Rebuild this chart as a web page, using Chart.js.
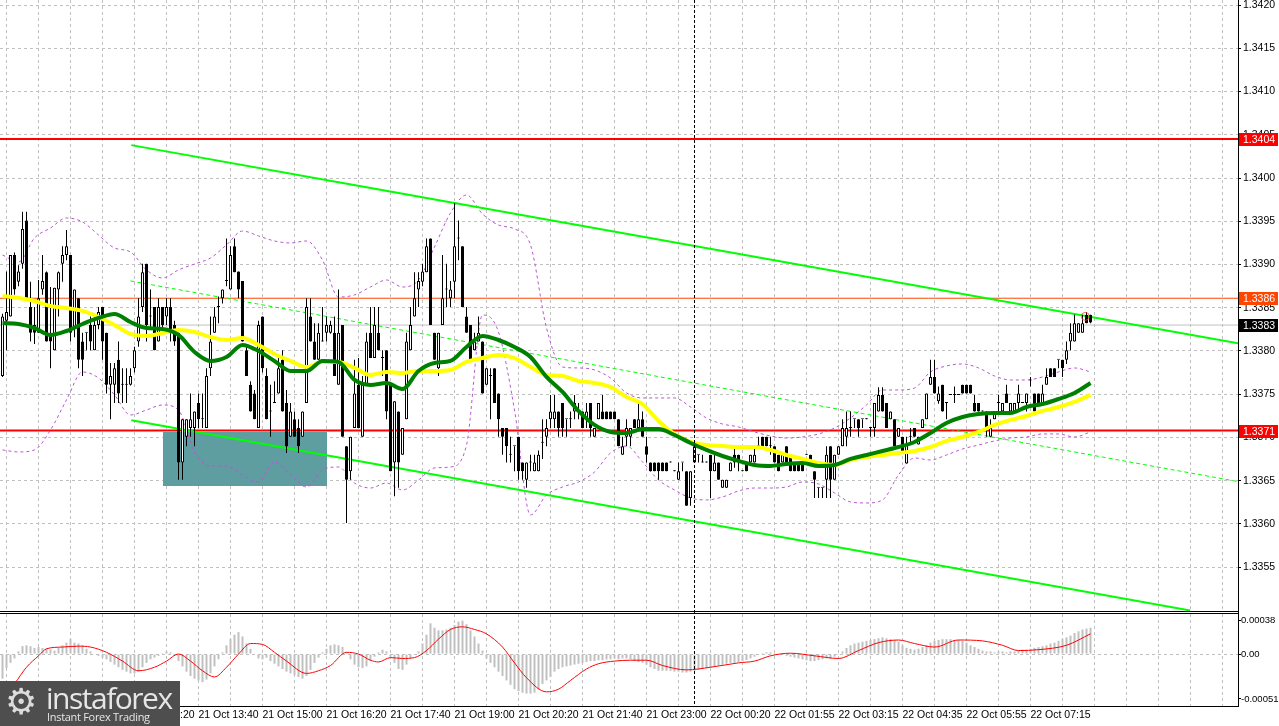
<!DOCTYPE html>
<html>
<head>
<meta charset="utf-8">
<title>GBP/USD M5</title>
<script src="https://cdn.jsdelivr.net/npm/chart.js@4.4.1/dist/chart.umd.min.js"></script>
<style>
  body { margin: 0; background: #fff; }
  #wrap { position: relative; width: 1279px; height: 726px; overflow: hidden; background: #fff; }
  #price { position: absolute; left: 0; top: 0; }
  #macd { position: absolute; left: 0; top: 611px; }
  #logo { position: absolute; left: 0; top: 681px; width: 180px; height: 45px; background: #4e4e4e; color: #e6e6e6; }
  #logo .gear { position: absolute; left: 5px; top: 1px; font: 36px/40px "DejaVu Sans"; color: #dcdcdc; }
  #logo .brand { position: absolute; left: 46px; top: -2px; font: 30px/38px "Open Sans"; letter-spacing: -1.5px; }
  #logo .sub { position: absolute; left: 47px; top: 29px; font: 11px/14px "Open Sans"; letter-spacing: -0.3px; }
</style>
</head>
<body>
<div id="wrap">
  <canvas id="price" width="1279" height="611"></canvas>
  <canvas id="macd" width="1279" height="115"></canvas>
  <div id="logo"><span class="gear">&#9881;</span><span class="brand">instaforex</span><span class="sub">Instant Forex Trading</span></div>
</div>
<script>
// Candles (5 min), prices in pips above 1.3300
const BASE = 1.33;

const opens = [
  77.1,83.5,84.0,91.1,88.0,90.1,95.1,85.1,83.0,82.1,
  87.1,89.1,82.1,80.1,87.1,90.1,91.1,91.1,82.8,86.1,
  81.1,82.1,83.0,80.1,83.0,85.1,82.1,76.1,76.1,79.0,
  76.1,76.1,76.1,78.0,81.1,85.1,90.1,84.0,85.1,81.1,
  85.1,84.0,85.1,83.0,82.1,67.1,70.1,71.1,71.1,74.0,
  72.1,71.1,78.0,82.1,85.1,86.1,88.1,87.1,92.1,89.2,
  88.1,80.1,76.1,75.1,71.1,84.0,77.1,73.0,74.0,75.1,
  79.0,74.0,70.1,72.1,71.1,70.1,74.0,84.0,81.1,79.0,
  81.1,82.1,82.1,82.1,76.1,83.0,69.0,66.1,71.1,76.1,
  70.1,76.1,82.1,79.2,82.1,79.2,80.1,76.1,67.1,73.0,
  68.0,72.1,80.1,84.0,87.1,88.0,89.1,93.0,82.1,78.0,
  83.0,87.1,86.1,88.0,93.0,92.1,84.0,83.0,80.1,81.1,
  81.1,76.1,77.1,78.0,75.1,71.1,71.1,68.0,69.0,70.1,
  67.1,65.1,67.1,66.1,66.1,69.4,70.1,72.1,72.1,73.0,
  74.0,72.1,72.1,73.0,73.0,73.0,72.1,74.0,70.1,72.1,
  73.0,73.0,73.0,73.0,72.1,68.0,70.1,70.1,72.1,71.1,
  72.1,69.0,67.1,67.1,67.1,67.1,67.1,67.1,66.1,65.1,
  67.1,66.1,63.0,67.1,68.0,67.1,67.1,68.0,66.1,67.1,
  64.2,64.2,66.1,68.0,68.0,66.1,67.1,67.1,67.1,69.0,
  70.1,70.1,69.0,69.0,68.0,67.1,69.0,68.0,67.1,67.1,
  67.1,68.0,68.0,66.1,64.2,64.2,65.1,69.0,65.1,68.0,
  69.0,70.1,71.1,72.1,72.1,72.1,72.1,71.1,71.1,73.0,
  74.9,74.0,72.1,72.1,70.1,70.1,67.0,70.1,71.1,69.2,
  71.1,72.1,76.1,77.0,74.2,76.1,74.0,74.9,74.9,74.9,
  76.1,76.1,76.1,74.0,74.0,73.0,73.0,70.1,72.1,74.0,
  73.0,75.1,73.0,73.0,74.0,74.0,74.0,76.6,75.1,75.1,
  74.0,76.1,78.0,78.0,79.0,79.0,79.0,81.1,81.1,82.1,
  82.1,84.2,84.2
];
const highs = [
  84.3,89.2,91.1,91.4,89.9,96.1,96.1,88.0,85.1,88.2,
  91.1,89.2,87.4,87.3,89.2,92.1,94.0,91.1,87.1,86.1,
  82.1,82.1,84.0,84.0,85.1,85.1,82.1,78.6,78.6,81.1,
  78.0,78.0,78.0,80.5,86.1,90.1,90.1,87.1,85.1,86.1,
  85.1,86.1,86.1,83.5,82.1,72.1,72.1,75.1,73.0,75.1,
  75.1,78.0,84.0,85.1,86.3,87.1,93.0,92.1,93.0,89.2,
  88.1,80.5,76.5,75.5,83.5,84.0,78.0,76.1,76.5,79.2,
  80.1,75.5,74.0,73.0,72.1,73.0,86.1,86.1,83.2,83.2,
  85.1,84.0,83.5,84.0,87.1,83.0,69.0,70.1,79.0,79.2,
  77.1,82.1,85.1,85.1,85.1,80.1,80.1,76.1,74.2,73.0,
  71.1,82.1,85.1,89.1,89.1,90.1,93.0,93.0,82.1,82.1,
  91.1,90.1,88.1,97.1,95.1,92.1,85.1,83.0,82.1,84.0,
  81.1,78.0,78.0,78.0,75.1,71.1,71.1,70.1,69.0,70.1,
  67.1,67.1,68.0,68.0,68.5,72.1,72.1,74.9,74.9,73.0,
  74.0,72.1,73.0,74.9,74.0,73.0,74.0,74.0,71.1,74.0,
  74.9,73.0,73.0,73.0,72.1,70.1,72.1,71.1,72.1,74.0,
  73.0,70.1,67.1,67.1,67.1,67.1,67.1,67.1,66.1,67.1,
  67.1,66.1,66.1,69.0,68.0,68.0,67.1,68.0,68.0,67.1,
  65.1,65.1,67.1,69.0,68.0,66.1,67.1,68.0,69.0,70.1,
  70.1,70.1,70.1,69.0,68.0,68.0,69.0,68.0,67.1,67.1,
  67.1,68.0,68.0,66.1,64.2,64.2,69.0,69.0,68.0,69.0,
  72.1,73.0,73.0,72.1,72.1,72.1,72.1,71.1,74.0,75.8,
  75.8,74.0,73.0,72.1,71.1,70.1,70.1,71.1,71.1,70.1,
  72.1,75.1,79.0,79.0,75.9,76.1,74.0,74.9,75.9,74.9,
  76.1,76.1,76.1,74.9,74.0,73.0,73.0,72.1,73.0,74.9,
  74.0,76.1,74.0,74.0,76.1,74.0,75.1,77.0,75.1,75.1,
  76.1,78.0,78.0,78.0,79.0,79.0,81.1,83.2,84.2,83.2,
  84.2,84.5,84.2
];
const lows = [
  77.0,80.1,84.0,86.5,87.5,89.5,86.1,81.1,80.8,82.1,
  86.5,81.1,78.0,80.1,84.0,88.0,90.5,81.1,81.6,78.0,
  77.1,80.1,80.1,80.1,82.5,79.0,75.1,72.1,74.0,74.0,
  74.0,74.0,76.0,77.5,80.5,84.5,81.1,82.5,80.1,81.1,
  82.5,83.0,81.1,80.6,65.1,65.1,69.0,70.1,69.0,71.1,
  71.1,71.1,77.1,82.1,83.2,85.5,87.5,87.1,89.1,86.1,
  81.1,77.1,73.0,72.1,71.1,77.5,72.1,70.1,74.0,75.1,
  73.0,68.2,70.1,70.1,68.2,70.1,74.0,81.1,79.0,79.0,
  81.1,81.1,82.0,77.1,76.1,70.1,60.1,65.1,71.1,71.1,
  70.1,76.1,79.2,79.2,80.1,77.1,72.1,66.1,63.2,64.2,
  68.0,72.1,80.1,84.0,85.1,87.5,89.1,83.0,79.0,77.1,
  83.0,85.1,85.1,86.1,90.5,85.1,82.1,79.0,80.1,81.1,
  75.1,76.1,72.1,74.0,70.1,68.0,67.1,67.1,66.1,65.1,
  65.1,64.2,66.1,66.1,66.1,67.5,69.0,71.1,71.1,70.1,
  70.1,70.1,71.1,72.1,72.1,71.1,71.1,70.1,70.1,72.1,
  72.1,72.1,72.1,72.1,69.0,68.0,69.0,69.0,71.1,71.1,
  70.1,67.1,66.1,66.1,65.1,66.1,66.1,67.1,66.1,65.1,
  66.1,62.1,62.1,67.1,67.1,67.1,67.1,63.0,66.1,65.1,
  64.2,64.2,66.1,66.5,66.1,66.1,66.1,67.1,67.1,69.0,
  69.0,69.0,68.0,67.1,66.1,67.1,67.1,66.1,66.1,66.1,
  66.1,68.0,67.1,63.0,63.0,63.0,63.0,63.0,65.1,68.0,
  69.0,69.0,70.1,71.1,70.1,71.1,72.1,70.1,70.1,73.0,
  73.0,71.1,72.1,69.0,70.1,68.2,67.0,69.2,70.1,69.2,
  71.1,72.1,76.1,75.1,73.9,73.0,72.1,74.9,74.0,74.9,
  75.1,75.1,75.1,73.0,73.0,73.0,70.1,70.1,72.1,73.0,
  73.0,74.0,73.0,73.0,73.0,74.0,73.0,75.9,73.0,74.0,
  74.0,76.1,77.0,77.0,78.0,77.0,78.5,80.1,81.1,82.1,
  82.1,83.2,83.2
];
const closes = [
  84.0,84.5,91.1,87.1,89.2,94.1,86.1,82.1,82.1,86.1,
  88.1,81.1,81.1,87.3,89.1,91.1,92.1,82.1,87.1,79.0,
  79.0,82.1,81.1,83.0,84.5,81.1,76.1,77.1,78.0,75.1,
  76.1,76.1,77.1,80.1,84.0,89.1,83.0,84.0,80.1,85.1,
  83.0,85.1,82.1,81.1,67.1,72.1,72.1,72.1,73.0,72.1,
  72.1,77.1,81.1,84.0,85.1,87.1,88.1,91.1,89.1,87.1,
  81.1,77.1,73.0,72.1,83.0,78.0,72.1,73.0,74.0,78.0,
  73.0,69.0,73.0,70.1,69.0,73.0,85.1,81.1,79.0,82.1,
  81.1,83.0,83.0,77.1,82.1,70.1,65.1,70.1,75.1,71.1,
  76.1,81.1,79.2,83.0,80.1,79.2,73.0,66.1,74.2,67.1,
  71.1,81.1,83.0,86.1,88.1,89.2,92.1,83.0,79.0,82.1,
  86.1,87.1,87.1,92.1,93.0,85.1,82.1,79.0,81.1,82.1,
  75.1,78.0,77.1,74.0,72.1,70.1,69.0,68.0,69.0,66.1,
  66.1,67.1,67.1,67.1,68.0,69.4,71.1,73.0,73.0,71.1,
  71.1,72.1,72.1,74.0,73.0,71.1,73.0,71.1,71.1,74.0,
  72.1,72.1,72.1,72.1,69.0,69.0,71.1,71.1,71.1,72.1,
  70.1,68.0,66.1,66.1,66.1,66.1,66.1,67.1,66.1,66.1,
  67.1,62.1,66.1,69.0,68.0,67.1,67.1,66.1,67.1,65.1,
  65.1,65.1,67.1,67.1,67.1,66.1,66.1,68.0,68.0,69.0,
  69.0,69.0,69.0,67.1,66.1,68.0,67.1,66.1,66.1,66.1,
  66.1,68.0,67.1,65.1,64.2,64.2,68.0,65.1,68.0,69.0,
  71.1,71.1,71.1,72.1,71.1,72.1,72.1,71.1,74.0,74.9,
  73.0,71.1,73.0,69.0,71.1,68.2,69.2,70.1,70.1,70.1,
  72.1,75.1,77.0,75.1,75.1,73.0,74.0,74.9,74.9,74.9,
  75.1,75.1,75.1,73.0,73.0,73.0,71.1,71.1,73.0,74.0,
  74.0,74.0,74.0,74.0,75.1,74.0,75.1,76.6,73.0,74.0,
  75.1,77.0,77.0,77.0,79.0,78.0,80.1,82.1,83.2,83.2,
  83.2,83.2,83.3
];

// Moving averages and Bollinger bands, read every 4th bar
const lineIdx = [0,4,8,12,16,20,24,28,32,36,40,44,48,52,56,60,64,68,72,76,80,84,88,92,96,100,104,108,112,116,
  120,124,128,132,136,140,144,148,152,156,160,164,168,172,176,180,184,188,192,196,200,204,208,212,216,220,224,228,232,236,
  240,244,248,252,256,260,264,268,272];
const maFast = [
  83.24,83.12,82.66,81.85,82.31,83.12,83.82,84.28,83.35,82.66,
  82.55,81.85,79.89,78.85,79.31,80.70,80.00,78.85,77.69,77.69,
  78.85,78.73,76.65,76.07,76.30,75.61,77.69,78.61,78.85,80.46,
  81.74,81.27,80.46,79.31,77.00,75.26,73.07,71.45,70.64,70.52,
  70.98,70.98,70.29,69.37,68.56,67.86,67.29,66.82,66.71,66.94,
  67.05,66.71,66.82,67.52,67.98,68.44,68.90,69.48,70.52,71.68,
  72.37,72.72,72.83,72.83,73.53,73.87,74.45,75.15,76.30
];
const maSlow = [
  86.36,86.13,85.78,85.20,84.97,84.63,83.93,83.01,81.97,81.74,
  82.08,82.43,82.20,81.62,81.27,81.50,80.70,79.66,78.85,78.15,
  78.73,78.73,78.04,77.23,77.58,77.46,77.69,77.69,77.81,78.73,
  79.19,79.54,79.19,78.15,77.23,77.11,76.53,76.30,75.84,74.68,
  73.87,71.91,70.41,69.48,69.13,69.02,68.90,68.90,68.56,67.98,
  67.52,67.05,66.82,67.40,67.75,67.98,68.21,68.44,68.90,69.60,
  70.06,70.64,71.45,72.03,72.49,73.07,73.53,74.11,74.92
];
const bbUpper = [
  91.10,90.29,93.07,94.22,95.38,94.92,93.41,91.91,91.45,89.37,
  88.44,89.37,90.06,90.75,92.26,93.87,93.30,92.72,92.49,92.72,
  90.52,86.24,86.48,87.40,88.21,87.40,88.21,92.03,95.96,98.04,
  95.84,94.57,94.11,92.26,82.66,78.15,78.04,77.81,76.88,75.15,
  74.57,74.57,74.57,73.53,72.26,71.56,71.22,70.64,70.18,69.94,
  70.06,70.41,71.10,72.26,73.76,75.49,75.49,75.72,77.58,78.27,
  78.50,78.04,77.11,76.65,76.65,77.00,77.58,78.04,77.58
];
const bbLower = [
  68.56,68.33,68.56,70.87,74.34,77.58,76.88,74.92,72.60,73.18,
  73.76,73.18,68.33,66.71,66.71,65.67,64.86,67.17,65.67,64.28,
  66.24,66.59,64.74,64.16,64.74,63.93,65.09,66.48,66.59,69.13,
  84.16,82.20,73.18,61.04,63.35,64.28,64.86,66.01,68.21,69.02,
  67.17,65.09,63.93,63.01,62.78,63.12,63.82,64.16,64.16,64.28,
  64.86,64.63,63.59,62.55,62.43,62.78,65.67,67.63,67.40,67.98,
  68.67,69.13,69.60,69.94,70.06,70.41,70.41,70.06,70.64
];

// MACD histogram and signal, in units of 0.00001
const macdHist = [
  -28,-16,-10,-5,3,9,10,9,7,8,
  7,6,5,4,7,10,13,17,13,12,
  10,6,3,0,-2,-4,-6,-9,-12,-15,
  -18,-20,-22,-22,-20,-15,-10,-6,-4,-2,
  1,3,2,-2,-8,-14,-20,-25,-28,-30,
  -32,-29,-22,-14,-6,2,10,17,22,25,
  20,12,6,0,-5,-6,-4,-8,-11,-14,
  -17,-20,-22,-24,-26,-28,-25,-18,-10,-4,
  2,6,10,11,10,8,2,-6,-12,-15,
  -16,-14,-8,-3,2,5,3,-3,-10,-17,
  -18,-12,-5,0,3,12,22,35,30,27,
  27,28,30,33,37,38,34,27,20,12,
  4,-5,-10,-15,-20,-25,-30,-35,-40,-42,
  -44,-45,-45,-44,-40,-34,-30,-26,-20,-17,
  -15,-14,-13,-12,-11,-10,-9,-8,-8,-7,
  -7,-6,-6,-5,-6,-5,-5,-6,-8,-9,
  -10,-12,-15,-17,-19,-19,-19,-19,-20,-20,
  -21,-21,-20,-19,-18,-17,-16,-15,-14,-13,
  -12,-11,-10,-10,-9,-8,-7,-5,-3,-1,
  1,2,2,1,0,-1,-2,-3,-4,-5,
  -6,-7,-8,-8,-7,-6,-5,-5,-3,-1,
  3,7,10,12,13,14,15,16,17,18,
  19,18,17,16,14,10,7,6,5,6,
  8,10,13,15,16,17,17,17,16,16,
  15,13,10,8,6,4,3,3,2,3,
  3,2,3,3,4,5,5,6,7,8,
  9,10,12,13,15,17,19,21,24,26,
  28,29,30
];
const sigIdx = [3,6,9,11,15,19,22,26,30,34,38,41,44,47,50,53,56,59,62,65,68,71,76,79,82,86,89,92,94,97,
  100,103,106,109,112,115,118,121,125,128,131,136,139,142,146,149,153,157,161,165,171,177,184,188,192,197,203,209,214,219,
  224,228,233,239,245,250,254,259,266,272];
const sigVal = [-34,-15,-2,6,8,9,8,2,-8,-19,-15,-8,0,-8,-19,-26,-15,0,12,11,2,-8,-22,-19,-13,2,0,-7,-9,-4,
  -5,-4,4,17,28,31,28,23,8,-10,-27,-43,-40,-30,-17,-11,-8,-7,-7,-13,-18,-15,-10,-8,-2,1,-2,-5,4,13,
  16,12,8,16,15,10,4,5,10,23];

// Levels, trend channel and marked zone
const levelPips = [104.5, 86.1, 83.0, 70.8];
const levelText = ['1.3404', '1.3386', '1.3383', '1.3371'];
const chanUpper = [[32.2, 103.8], [308.9, 80.9]];
const chanLower = [[32.2, 72.0], [296.9, 50.0]];
const chanMid = [[32.0, 88.1], [308.9, 64.9]];
const zoneX = [40, 81];
const zoneY = [64.4, 70.6];
const sepIdx = 172.9;
const markIdx = 270.7, markPips = 84.0;

// Axis ticks
const priceTicks = [55,60,65,70,75,80,85,90,95,100,105,110,115,120];
const macdTicks = [38, 0, -51];
const gridIdx = [1,9,17,25,33,41,49,57,65,73,81,89,97,105,113,121,129,137,145,153,161,169,177,185,193,201,209,217,225,233,241,249,257,265,273,281,289,297,305];
const labelIdx = [1,17,33,49,65,81,97,113,129,145,161,177,193,209,225,241,257];
const labelText = ['21 Oct 09:40','21 Oct 11:00','21 Oct 12:20','21 Oct 13:40','21 Oct 15:00','21 Oct 16:20','21 Oct 17:40',
  '21 Oct 19:00','21 Oct 20:20','21 Oct 21:40','21 Oct 23:00','22 Oct 00:20','22 Oct 01:55','22 Oct 03:15','22 Oct 04:35',
  '22 Oct 05:55','22 Oct 07:15'];

// styles
const X_MIN = -0.625, X_MAX = 308.875;
const gridColor = '#c0c0c0';
const axisFont = {family: 'Liberation Sans', size: 10.5};
const levelStyle = [
  {line: '#ff0000', width: 2, tag: '#ff0000'},
  {line: '#ff4500', width: 1, tag: '#ff4500'},
  {line: '#c0c0c0', width: 1, tag: '#000000'},
  {line: '#ff0000', width: 2, tag: '#ff0000'}
];

function pts(xs, ys) {
  return xs.map((x, i) => ({x: x, y: ys[i]}));
}
function seg(p) {
  return p.map(q => ({x: q[0], y: q[1]}));
}
function lineSet(data, color, width, order, dash) {
  return {type: 'line', data: data, borderColor: color, borderWidth: width, borderDash: dash || [],
    pointRadius: 0, cubicInterpolationMode: 'monotone', fill: false, order: order};
}
function dashedSep(chart) {
  const {ctx, chartArea, scales} = chart;
  const px = Math.round(scales.x.getPixelForValue(sepIdx)) + 0.5;
  ctx.save();
  ctx.strokeStyle = '#000';
  ctx.lineWidth = 1;
  ctx.setLineDash([3, 2]);
  ctx.beginPath();
  ctx.moveTo(px, 0);
  ctx.lineTo(px, chartArea.bottom);
  ctx.stroke();
  ctx.restore();
}

// Price chart
const priceDeco = {
  id: 'priceDeco',
  beforeDatasetsDraw(chart) {
    const {ctx, scales: {x, y}} = chart;
    const x0 = x.getPixelForValue(zoneX[0]), x1 = x.getPixelForValue(zoneX[1]);
    const y0 = y.getPixelForValue(zoneY[1]), y1 = y.getPixelForValue(zoneY[0]);
    ctx.save();
    ctx.fillStyle = '#5f9ea0';
    ctx.fillRect(Math.round(x0), Math.round(y0), Math.round(x1 - x0), Math.round(y1 - y0));
    ctx.restore();
  },
  afterDatasetsDraw(chart) {
    dashedSep(chart);
  },
  afterDraw(chart) {
    const {ctx, scales: {y}} = chart;
    ctx.save();
    ctx.font = '10.5px "Liberation Sans"';
    ctx.textBaseline = 'middle';
    levelPips.forEach((v, i) => {
      const py = Math.round(y.getPixelForValue(v));
      ctx.fillStyle = levelStyle[i].tag;
      ctx.fillRect(1239, py - 6, 39, 13);
      ctx.fillStyle = '#fff';
      ctx.fillText(levelText[i], 1243, py + 1);
    });
    ctx.restore();
  }
};

const candleWicks = closes.map((c, i) => ({x: i, y: [lows[i], highs[i]]}));
const candleBodies = closes.map((c, i) => ({x: i, y: [opens[i], c]}));
const bodyColors = closes.map((c, i) => c >= opens[i] ? '#ffffff' : '#000000');

const priceSets = [
  {type: 'line', data: [{x: markIdx, y: markPips}], showLine: false, pointRadius: 4,
    pointBorderColor: 'rgba(255,60,60,0.8)', pointBackgroundColor: 'rgba(0,0,0,0)', pointBorderWidth: 1, order: 1},
  lineSet(pts(lineIdx, maFast), '#008000', 4, 2),
  lineSet(pts(lineIdx, maSlow), '#ffff00', 4, 3),
  {type: 'bar', data: candleBodies, backgroundColor: bodyColors, borderColor: '#000', borderWidth: 1,
    borderSkipped: false, inflateAmount: 0, barThickness: 3, minBarLength: 1, grouped: false, order: 4},
  {type: 'bar', data: candleWicks, backgroundColor: '#000', borderWidth: 0, inflateAmount: 0,
    barThickness: 1, minBarLength: 1, grouped: false, order: 5},
  lineSet(seg(chanUpper), '#00ff00', 2, 6),
  lineSet(seg(chanLower), '#00ff00', 2, 6),
  lineSet(seg(chanMid), '#00ff00', 1, 6, [4, 3]),
  lineSet(pts(lineIdx, bbUpper), '#ba55d3', 1, 7, [3, 3]),
  lineSet(pts(lineIdx, bbLower), '#ba55d3', 1, 7, [3, 3])
];
levelPips.forEach((v, i) => {
  priceSets.push(lineSet([{x: X_MIN, y: v}, {x: X_MAX, y: v}], levelStyle[i].line, levelStyle[i].width, 8));
});

new Chart(document.getElementById('price'), {
  type: 'bar',
  data: {datasets: priceSets},
  options: {
    responsive: false,
    animation: false,
    devicePixelRatio: 1,
    events: [],
    layout: {padding: 0, autoPadding: false},
    plugins: {legend: {display: false}, tooltip: {enabled: false}},
    scales: {
      x: {
        type: 'linear', min: X_MIN, max: X_MAX, offset: false,
        grid: {color: gridColor, drawTicks: false, offset: false},
        border: {display: false, dash: [3, 3]},
        ticks: {display: false},
        afterBuildTicks: s => { s.ticks = gridIdx.map(v => ({value: v})); },
        afterFit: s => { s.height = 0; s.paddingLeft = 0; s.paddingRight = 0; }
      },
      y: {
        type: 'linear', position: 'right', min: 49.94, max: 120.58,
        grid: {color: gridColor, tickColor: '#000', tickLength: 3},
        border: {display: true, color: '#000', dash: [3, 3]},
        ticks: {color: '#000', font: axisFont, padding: 2, callback: v => (BASE + v / 10000).toFixed(4)},
        afterBuildTicks: s => { s.ticks = priceTicks.map(v => ({value: v})); },
        afterFit: s => { s.width = 41; s.paddingTop = 0; s.paddingBottom = 0; }
      }
    }
  },
  plugins: [priceDeco]
});

// MACD panel
const macdDeco = {
  id: 'macdDeco',
  afterDatasetsDraw(chart) {
    dashedSep(chart);
  },
  afterDraw(chart) {
    const ctx = chart.ctx;
    ctx.save();
    ctx.fillStyle = '#000';
    ctx.fillRect(0, 0, 1239, 1);
    ctx.fillRect(0, 2, 1239, 1);
    ctx.fillRect(1238, 0, 1, 3);
    ctx.restore();
  }
};

new Chart(document.getElementById('macd'), {
  type: 'bar',
  data: {datasets: [
    lineSet(pts(sigIdx, sigVal), '#ff0000', 1, 1),
    {type: 'bar', data: macdHist.map((v, i) => ({x: i, y: v})), backgroundColor: '#c0c0c0',
      borderWidth: 0, inflateAmount: 0, barThickness: 2, grouped: false, order: 2}
  ]},
  options: {
    responsive: false,
    animation: false,
    devicePixelRatio: 1,
    events: [],
    layout: {padding: {top: 3, left: 0, right: 0, bottom: 0}, autoPadding: false},
    plugins: {legend: {display: false}, tooltip: {enabled: false}},
    scales: {
      x: {
        type: 'linear', min: X_MIN, max: X_MAX, offset: false,
        grid: {color: gridColor, drawTicks: false, offset: false},
        border: {display: true, color: '#000', dash: [3, 3]},
        ticks: {color: '#000', font: axisFont, padding: 3, align: 'start', maxRotation: 0, minRotation: 0, autoSkip: false,
          callback: v => { const k = labelIdx.indexOf(v); return k < 0 ? '' : labelText[k]; }},
        afterBuildTicks: s => { s.ticks = gridIdx.map(v => ({value: v})); },
        afterFit: s => { s.height = 20; s.paddingLeft = 0; s.paddingRight = 0; }
      },
      y: {
        type: 'linear', position: 'right', min: -59.1, max: 45.6,
        grid: {color: c => (c.tick && c.tick.value === 0) ? gridColor : 'rgba(0,0,0,0)', tickColor: '#000', tickLength: 3},
        border: {display: true, color: '#000', dash: [3, 3]},
        ticks: {color: '#000', font: {family: 'Liberation Sans', size: 9.5}, padding: 0,
          callback: v => v === 0 ? '0.00' : (v / 100000).toFixed(5)},
        afterBuildTicks: s => { s.ticks = macdTicks.map(v => ({value: v})); },
        afterFit: s => { s.width = 41; s.paddingTop = 0; s.paddingBottom = 0; }
      }
    }
  },
  plugins: [macdDeco]
});
</script>
</body>
</html>
